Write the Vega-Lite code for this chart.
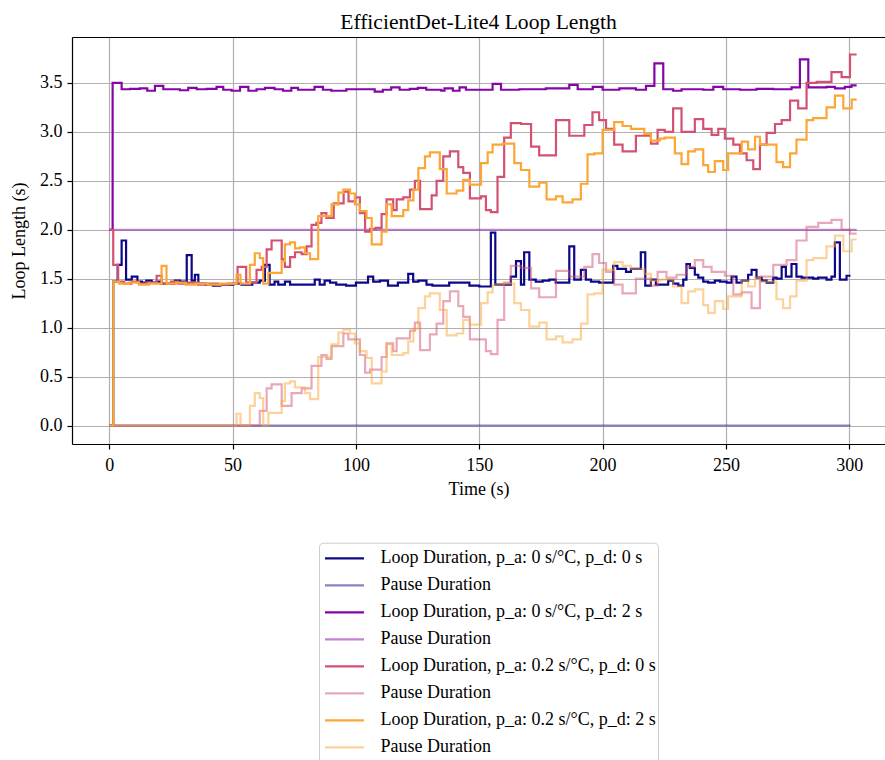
{
 "$schema": "https://vega.github.io/schema/vega-lite/v6.json",
 "width": 813, "height": 407,
 "autosize": {"type": "none"},
 "padding": {"left": 72, "top": 37, "right": 0, "bottom": 316},
 "background": "white",
 "title": {"text": "EfficientDet-Lite4 Loop Length", "fontSize": 21.6, "font": "Liberation Serif", "fontWeight": "normal", "color": "black", "anchor": "middle", "baseline": "alphabetic", "offset": 9, "dy": 22.5},
 "datasets": {
  "raw": [
   {"s":"a","t":0,"v":0},{"s":"a","t":1.6,"v":1.47},{"s":"a","t":3.4,"v":1.64},{"s":"a","t":5.0,"v":1.89},{"s":"a","t":6.8,"v":1.49},{"s":"a","t":9.1,"v":1.52},{"s":"a","t":11.4,"v":1.47},{"s":"a","t":13.2,"v":1.46},{"s":"a","t":15.0,"v":1.48},{"s":"a","t":17.2,"v":1.46},{"s":"a","t":19.2,"v":1.47},{"s":"a","t":21.2,"v":1.45},{"s":"a","t":26.6,"v":1.48},{"s":"a","t":28.6,"v":1.47},{"s":"a","t":31.4,"v":1.74},{"s":"a","t":33.4,"v":1.48},{"s":"a","t":34.7,"v":1.54},{"s":"a","t":36.1,"v":1.45},{"s":"a","t":39,"v":1.44},{"s":"a","t":42,"v":1.43},{"s":"a","t":45,"v":1.44},{"s":"a","t":50.3,"v":1.45},{"s":"a","t":53.6,"v":1.44},{"s":"a","t":58,"v":1.46},{"s":"a","t":61,"v":1.48},{"s":"a","t":63.1,"v":1.64},{"s":"a","t":65,"v":1.44},{"s":"a","t":67,"v":1.47},{"s":"a","t":68.5,"v":1.44},{"s":"a","t":71.2,"v":1.47},{"s":"a","t":73.3,"v":1.44},{"s":"a","t":83.3,"v":1.49},{"s":"a","t":85.3,"v":1.44},{"s":"a","t":87.3,"v":1.48},{"s":"a","t":89.5,"v":1.46},{"s":"a","t":92,"v":1.44},{"s":"a","t":96,"v":1.43},{"s":"a","t":100,"v":1.46},{"s":"a","t":104.9,"v":1.52},{"s":"a","t":107,"v":1.47},{"s":"a","t":109.7,"v":1.48},{"s":"a","t":113,"v":1.43},{"s":"a","t":117,"v":1.46},{"s":"a","t":121.2,"v":1.55},{"s":"a","t":123.2,"v":1.47},{"s":"a","t":125.3,"v":1.48},{"s":"a","t":128.6,"v":1.44},{"s":"a","t":131,"v":1.43},{"s":"a","t":137.8,"v":1.46},{"s":"a","t":141.9,"v":1.46},{"s":"a","t":146,"v":1.43},{"s":"a","t":150,"v":1.42},{"s":"a","t":154.7,"v":1.97},{"s":"a","t":156.5,"v":1.44},{"s":"a","t":162.8,"v":1.52},{"s":"a","t":164.9,"v":1.68},{"s":"a","t":166.9,"v":1.44},{"s":"a","t":168.2,"v":1.77},{"s":"a","t":170.3,"v":1.49},{"s":"a","t":172.9,"v":1.47},{"s":"a","t":175.7,"v":1.48},{"s":"a","t":178.4,"v":1.49},{"s":"a","t":181,"v":1.46},{"s":"a","t":186.5,"v":1.83},{"s":"a","t":188.5,"v":1.49},{"s":"a","t":191.2,"v":1.59},{"s":"a","t":193.2,"v":1.49},{"s":"a","t":195.3,"v":1.47},{"s":"a","t":198.6,"v":1.46},{"s":"a","t":204.3,"v":1.63},{"s":"a","t":206,"v":1.60},{"s":"a","t":209.5,"v":1.57},{"s":"a","t":211.5,"v":1.60},{"s":"a","t":215.5,"v":1.77},{"s":"a","t":217.3,"v":1.43},{"s":"a","t":219.6,"v":1.49},{"s":"a","t":221.6,"v":1.44},{"s":"a","t":223.6,"v":1.44},{"s":"a","t":226.6,"v":1.48},{"s":"a","t":228.6,"v":1.45},{"s":"a","t":230.7,"v":1.43},{"s":"a","t":232.7,"v":1.49},{"s":"a","t":234,"v":1.65},{"s":"a","t":235.4,"v":1.61},{"s":"a","t":237.4,"v":1.54},{"s":"a","t":238.8,"v":1.51},{"s":"a","t":240.8,"v":1.47},{"s":"a","t":242.8,"v":1.46},{"s":"a","t":245.5,"v":1.48},{"s":"a","t":247.6,"v":1.47},{"s":"a","t":250.3,"v":1.46},{"s":"a","t":252.3,"v":1.52},{"s":"a","t":254.3,"v":1.46},{"s":"a","t":256.4,"v":1.48},{"s":"a","t":259,"v":1.54},{"s":"a","t":260.4,"v":1.59},{"s":"a","t":262.4,"v":1.51},{"s":"a","t":264.5,"v":1.48},{"s":"a","t":266.5,"v":1.46},{"s":"a","t":269.2,"v":1.51},{"s":"a","t":270.5,"v":1.50},{"s":"a","t":272.6,"v":1.62},{"s":"a","t":274.3,"v":1.52},{"s":"a","t":276.6,"v":1.65},{"s":"a","t":278.6,"v":1.52},{"s":"a","t":280.7,"v":1.51},{"s":"a","t":285.4,"v":1.50},{"s":"a","t":287.4,"v":1.51},{"s":"a","t":290.8,"v":1.49},{"s":"a","t":292.8,"v":1.52},{"s":"a","t":294.2,"v":1.87},{"s":"a","t":296.2,"v":1.49},{"s":"a","t":298.9,"v":1.53},{"s":"a","t":300.5,"v":1.53},
   {"s":"b","t":0,"v":0},{"s":"b","t":300.5,"v":0},
   {"s":"c","t":0,"v":2.0},{"s":"c","t":1.35,"v":3.50},{"s":"c","t":5.0,"v":3.435},{"s":"c","t":8.4,"v":3.44},{"s":"c","t":12.4,"v":3.445},{"s":"c","t":15.4,"v":3.42},{"s":"c","t":18.5,"v":3.47},{"s":"c","t":21.9,"v":3.435},{"s":"c","t":28.6,"v":3.425},{"s":"c","t":32.0,"v":3.45},{"s":"c","t":35.4,"v":3.435},{"s":"c","t":39.5,"v":3.44},{"s":"c","t":43.5,"v":3.46},{"s":"c","t":46.2,"v":3.43},{"s":"c","t":49.6,"v":3.42},{"s":"c","t":53.0,"v":3.46},{"s":"c","t":56.4,"v":3.42},{"s":"c","t":59.7,"v":3.435},{"s":"c","t":63.1,"v":3.45},{"s":"c","t":67,"v":3.435},{"s":"c","t":70.4,"v":3.42},{"s":"c","t":73.8,"v":3.45},{"s":"c","t":76.5,"v":3.43},{"s":"c","t":83.2,"v":3.46},{"s":"c","t":86.6,"v":3.43},{"s":"c","t":90,"v":3.42},{"s":"c","t":96.1,"v":3.435},{"s":"c","t":107.6,"v":3.41},{"s":"c","t":110.9,"v":3.43},{"s":"c","t":114.3,"v":3.455},{"s":"c","t":117.7,"v":3.43},{"s":"c","t":121.8,"v":3.44},{"s":"c","t":125.1,"v":3.45},{"s":"c","t":128.5,"v":3.43},{"s":"c","t":134.6,"v":3.42},{"s":"c","t":135.9,"v":3.445},{"s":"c","t":139.3,"v":3.42},{"s":"c","t":142,"v":3.455},{"s":"c","t":144.6,"v":3.43},{"s":"c","t":155.4,"v":3.49},{"s":"c","t":158.8,"v":3.43},{"s":"c","t":166.2,"v":3.435},{"s":"c","t":177,"v":3.445},{"s":"c","t":186.5,"v":3.48},{"s":"c","t":189.9,"v":3.435},{"s":"c","t":196,"v":3.46},{"s":"c","t":200,"v":3.43},{"s":"c","t":206.8,"v":3.445},{"s":"c","t":213.5,"v":3.43},{"s":"c","t":217.6,"v":3.47},{"s":"c","t":221,"v":3.70},{"s":"c","t":224.6,"v":3.435},{"s":"c","t":228.6,"v":3.42},{"s":"c","t":232,"v":3.435},{"s":"c","t":240.8,"v":3.43},{"s":"c","t":244.9,"v":3.46},{"s":"c","t":248.9,"v":3.435},{"s":"c","t":255.7,"v":3.43},{"s":"c","t":262.4,"v":3.44},{"s":"c","t":269.2,"v":3.435},{"s":"c","t":276.6,"v":3.455},{"s":"c","t":280,"v":3.74},{"s":"c","t":283.4,"v":3.455},{"s":"c","t":290.8,"v":3.46},{"s":"c","t":294.2,"v":3.445},{"s":"c","t":298.2,"v":3.46},{"s":"c","t":300.9,"v":3.475},{"s":"c","t":303,"v":3.475},
   {"s":"d","t":0,"v":2.0},{"s":"d","t":303,"v":2.0},
   {"s":"e","t":0,"v":2.0},{"s":"e","t":1.6,"v":1.64},{"s":"e","t":3.6,"v":1.47},{"s":"e","t":6,"v":1.45},{"s":"e","t":9,"v":1.47},{"s":"e","t":12,"v":1.45},{"s":"e","t":15,"v":1.46},{"s":"e","t":19.2,"v":1.53},{"s":"e","t":21.2,"v":1.45},{"s":"e","t":25,"v":1.47},{"s":"e","t":28,"v":1.45},{"s":"e","t":32,"v":1.46},{"s":"e","t":36,"v":1.44},{"s":"e","t":40,"v":1.45},{"s":"e","t":44,"v":1.44},{"s":"e","t":48,"v":1.45},{"s":"e","t":52,"v":1.62},{"s":"e","t":55.5,"v":1.46},{"s":"e","t":59.7,"v":1.59},{"s":"e","t":61.8,"v":1.62},{"s":"e","t":63.8,"v":1.80},{"s":"e","t":65.8,"v":1.89},{"s":"e","t":69.9,"v":1.70},{"s":"e","t":71.2,"v":1.62},{"s":"e","t":73.3,"v":1.72},{"s":"e","t":75.3,"v":1.77},{"s":"e","t":78,"v":1.75},{"s":"e","t":80,"v":1.83},{"s":"e","t":82,"v":2.05},{"s":"e","t":84,"v":2.07},{"s":"e","t":86,"v":2.17},{"s":"e","t":88,"v":2.12},{"s":"e","t":91,"v":2.27},{"s":"e","t":95,"v":2.39},{"s":"e","t":97,"v":2.29},{"s":"e","t":99.6,"v":2.33},{"s":"e","t":101.6,"v":2.17},{"s":"e","t":103.7,"v":1.98},{"s":"e","t":105.7,"v":2.01},{"s":"e","t":108,"v":2.02},{"s":"e","t":110.4,"v":2.16},{"s":"e","t":112.4,"v":2.31},{"s":"e","t":115.1,"v":2.20},{"s":"e","t":116.5,"v":2.31},{"s":"e","t":119.2,"v":2.33},{"s":"e","t":121.9,"v":2.41},{"s":"e","t":123.9,"v":2.50},{"s":"e","t":126,"v":2.21},{"s":"e","t":130.7,"v":2.35},{"s":"e","t":132.7,"v":2.50},{"s":"e","t":135.4,"v":2.75},{"s":"e","t":138.1,"v":2.80},{"s":"e","t":141.5,"v":2.64},{"s":"e","t":143.5,"v":2.58},{"s":"e","t":146.2,"v":2.32},{"s":"e","t":150.7,"v":2.34},{"s":"e","t":152.7,"v":2.20},{"s":"e","t":154.7,"v":2.18},{"s":"e","t":157.4,"v":2.54},{"s":"e","t":160.1,"v":2.94},{"s":"e","t":162.8,"v":3.09},{"s":"e","t":166.9,"v":3.08},{"s":"e","t":171,"v":2.85},{"s":"e","t":174.3,"v":2.76},{"s":"e","t":181.1,"v":3.12},{"s":"e","t":186.5,"v":2.96},{"s":"e","t":192.6,"v":3.07},{"s":"e","t":195.9,"v":3.20},{"s":"e","t":198.6,"v":3.12},{"s":"e","t":201.4,"v":3.03},{"s":"e","t":204.7,"v":2.87},{"s":"e","t":208.1,"v":2.80},{"s":"e","t":213.5,"v":2.96},{"s":"e","t":219.6,"v":2.88},{"s":"e","t":222.3,"v":3.02},{"s":"e","t":225.2,"v":3.00},{"s":"e","t":228.6,"v":3.24},{"s":"e","t":232,"v":3.00},{"s":"e","t":237.4,"v":3.13},{"s":"e","t":240.8,"v":3.03},{"s":"e","t":244.2,"v":2.97},{"s":"e","t":246.9,"v":3.03},{"s":"e","t":249.6,"v":2.93},{"s":"e","t":253,"v":2.87},{"s":"e","t":255.7,"v":2.78},{"s":"e","t":258.4,"v":2.71},{"s":"e","t":261.1,"v":2.62},{"s":"e","t":263.8,"v":2.87},{"s":"e","t":266.5,"v":2.99},{"s":"e","t":269.9,"v":3.08},{"s":"e","t":272.6,"v":3.12},{"s":"e","t":276,"v":3.32},{"s":"e","t":279.3,"v":3.24},{"s":"e","t":282.7,"v":3.50},{"s":"e","t":286.8,"v":3.51},{"s":"e","t":292.8,"v":3.61},{"s":"e","t":296.9,"v":3.56},{"s":"e","t":300.3,"v":3.79},{"s":"e","t":303,"v":3.79},
   {"s":"f","t":0,"v":0},{"s":"f","t":61,"v":0.15},{"s":"f","t":63.8,"v":0.38},{"s":"f","t":65.8,"v":0.42},{"s":"f","t":69.9,"v":0.20},{"s":"f","t":73.9,"v":0.33},{"s":"f","t":78,"v":0.38},{"s":"f","t":82,"v":0.61},{"s":"f","t":86,"v":0.72},{"s":"f","t":88.1,"v":0.68},{"s":"f","t":90.1,"v":0.81},{"s":"f","t":94.9,"v":0.94},{"s":"f","t":96.9,"v":0.88},{"s":"f","t":101.6,"v":0.72},{"s":"f","t":103.7,"v":0.54},{"s":"f","t":105.7,"v":0.57},{"s":"f","t":110.4,"v":0.70},{"s":"f","t":112.4,"v":0.84},{"s":"f","t":115.1,"v":0.76},{"s":"f","t":116.5,"v":0.89},{"s":"f","t":121.9,"v":0.97},{"s":"f","t":123.9,"v":1.05},{"s":"f","t":126,"v":0.77},{"s":"f","t":130,"v":0.93},{"s":"f","t":132.7,"v":1.04},{"s":"f","t":135.4,"v":1.27},{"s":"f","t":138.1,"v":1.37},{"s":"f","t":141.5,"v":1.22},{"s":"f","t":143.5,"v":1.11},{"s":"f","t":146.2,"v":0.88},{"s":"f","t":150.7,"v":0.88},{"s":"f","t":152.7,"v":0.76},{"s":"f","t":154.7,"v":0.73},{"s":"f","t":157.4,"v":1.08},{"s":"f","t":160.1,"v":1.46},{"s":"f","t":162.8,"v":1.63},{"s":"f","t":166.9,"v":1.61},{"s":"f","t":171,"v":1.40},{"s":"f","t":174.3,"v":1.31},{"s":"f","t":181.1,"v":1.58},{"s":"f","t":186.5,"v":1.52},{"s":"f","t":192.6,"v":1.62},{"s":"f","t":195.9,"v":1.75},{"s":"f","t":198.6,"v":1.66},{"s":"f","t":201.4,"v":1.57},{"s":"f","t":204.7,"v":1.44},{"s":"f","t":208.1,"v":1.35},{"s":"f","t":213.5,"v":1.50},{"s":"f","t":219.6,"v":1.43},{"s":"f","t":222.3,"v":1.57},{"s":"f","t":225.9,"v":1.51},{"s":"f","t":230,"v":1.54},{"s":"f","t":234,"v":1.62},{"s":"f","t":237.4,"v":1.69},{"s":"f","t":240.8,"v":1.62},{"s":"f","t":244.2,"v":1.57},{"s":"f","t":249.6,"v":1.53},{"s":"f","t":253,"v":1.34},{"s":"f","t":256.4,"v":1.36},{"s":"f","t":260.4,"v":1.20},{"s":"f","t":263.8,"v":1.52},{"s":"f","t":269.2,"v":1.64},{"s":"f","t":274.6,"v":1.69},{"s":"f","t":278.6,"v":1.89},{"s":"f","t":282.7,"v":2.03},{"s":"f","t":287.4,"v":2.07},{"s":"f","t":292.8,"v":2.10},{"s":"f","t":296.9,"v":2.0},{"s":"f","t":300.3,"v":1.96},{"s":"f","t":303,"v":1.96},
   {"s":"g","t":0,"v":0},{"s":"g","t":1.6,"v":1.47},{"s":"g","t":4,"v":1.45},{"s":"g","t":8,"v":1.46},{"s":"g","t":12,"v":1.44},{"s":"g","t":16,"v":1.45},{"s":"g","t":21.2,"v":1.63},{"s":"g","t":23.2,"v":1.45},{"s":"g","t":27,"v":1.46},{"s":"g","t":31,"v":1.44},{"s":"g","t":35,"v":1.45},{"s":"g","t":40,"v":1.44},{"s":"g","t":45,"v":1.45},{"s":"g","t":51.6,"v":1.54},{"s":"g","t":53.2,"v":1.45},{"s":"g","t":57,"v":1.64},{"s":"g","t":59,"v":1.76},{"s":"g","t":61,"v":1.71},{"s":"g","t":62.4,"v":1.45},{"s":"g","t":64.5,"v":1.56},{"s":"g","t":69.9,"v":1.68},{"s":"g","t":71.2,"v":1.85},{"s":"g","t":73.3,"v":1.87},{"s":"g","t":75.3,"v":1.81},{"s":"g","t":77.3,"v":1.82},{"s":"g","t":79.3,"v":1.76},{"s":"g","t":81.4,"v":1.70},{"s":"g","t":84.7,"v":2.14},{"s":"g","t":90.1,"v":2.26},{"s":"g","t":92.9,"v":2.38},{"s":"g","t":94.9,"v":2.41},{"s":"g","t":97.6,"v":2.37},{"s":"g","t":99.6,"v":2.26},{"s":"g","t":101.6,"v":2.19},{"s":"g","t":104.3,"v":2.12},{"s":"g","t":106.4,"v":1.85},{"s":"g","t":110.4,"v":1.98},{"s":"g","t":112.4,"v":2.26},{"s":"g","t":114.5,"v":2.14},{"s":"g","t":119.2,"v":2.20},{"s":"g","t":121.2,"v":2.30},{"s":"g","t":123.3,"v":2.41},{"s":"g","t":125.3,"v":2.63},{"s":"g","t":128,"v":2.75},{"s":"g","t":130,"v":2.79},{"s":"g","t":134,"v":2.62},{"s":"g","t":136.8,"v":2.37},{"s":"g","t":140.8,"v":2.40},{"s":"g","t":143.5,"v":2.51},{"s":"g","t":146.2,"v":2.46},{"s":"g","t":150.7,"v":2.68},{"s":"g","t":153.4,"v":2.79},{"s":"g","t":155.4,"v":2.87},{"s":"g","t":159.5,"v":2.88},{"s":"g","t":164.2,"v":2.68},{"s":"g","t":166.9,"v":2.61},{"s":"g","t":170.3,"v":2.44},{"s":"g","t":174.3,"v":2.48},{"s":"g","t":177.3,"v":2.31},{"s":"g","t":181.1,"v":2.34},{"s":"g","t":183.8,"v":2.28},{"s":"g","t":187.8,"v":2.31},{"s":"g","t":191.2,"v":2.47},{"s":"g","t":193.9,"v":2.77},{"s":"g","t":196.6,"v":2.78},{"s":"g","t":200,"v":3.02},{"s":"g","t":204.7,"v":3.10},{"s":"g","t":208.1,"v":3.06},{"s":"g","t":211.5,"v":3.03},{"s":"g","t":216.9,"v":2.98},{"s":"g","t":219.6,"v":2.91},{"s":"g","t":223.2,"v":2.93},{"s":"g","t":225.2,"v":2.94},{"s":"g","t":229.3,"v":2.78},{"s":"g","t":232,"v":2.67},{"s":"g","t":234.7,"v":2.80},{"s":"g","t":237.4,"v":2.82},{"s":"g","t":240.8,"v":2.66},{"s":"g","t":242.8,"v":2.59},{"s":"g","t":245.5,"v":2.70},{"s":"g","t":248.9,"v":2.61},{"s":"g","t":250.9,"v":2.78},{"s":"g","t":256.4,"v":2.90},{"s":"g","t":259,"v":2.82},{"s":"g","t":261.8,"v":2.95},{"s":"g","t":263.8,"v":2.87},{"s":"g","t":270.5,"v":2.69},{"s":"g","t":273.2,"v":2.64},{"s":"g","t":276,"v":2.78},{"s":"g","t":278.6,"v":2.92},{"s":"g","t":282.7,"v":3.12},{"s":"g","t":285.4,"v":3.14},{"s":"g","t":290.8,"v":3.25},{"s":"g","t":294.2,"v":3.37},{"s":"g","t":297.6,"v":3.24},{"s":"g","t":301,"v":3.33},{"s":"g","t":303,"v":3.33},
   {"s":"h","t":0,"v":0},{"s":"h","t":51.6,"v":0.12},{"s":"h","t":53.2,"v":0},{"s":"h","t":57,"v":0.20},{"s":"h","t":59,"v":0.33},{"s":"h","t":61,"v":0.28},{"s":"h","t":62.4,"v":0},{"s":"h","t":64.5,"v":0.13},{"s":"h","t":69.9,"v":0.25},{"s":"h","t":71.2,"v":0.43},{"s":"h","t":73.3,"v":0.45},{"s":"h","t":75.3,"v":0.39},{"s":"h","t":77.3,"v":0.39},{"s":"h","t":79.3,"v":0.33},{"s":"h","t":81.4,"v":0.27},{"s":"h","t":84.7,"v":0.70},{"s":"h","t":90.1,"v":0.83},{"s":"h","t":92.9,"v":0.95},{"s":"h","t":94.9,"v":0.98},{"s":"h","t":97.6,"v":0.94},{"s":"h","t":99.6,"v":0.84},{"s":"h","t":101.6,"v":0.76},{"s":"h","t":104.3,"v":0.69},{"s":"h","t":106.4,"v":0.43},{"s":"h","t":110.4,"v":0.55},{"s":"h","t":112.4,"v":0.83},{"s":"h","t":114.5,"v":0.72},{"s":"h","t":119.2,"v":0.74},{"s":"h","t":121.2,"v":0.86},{"s":"h","t":123.3,"v":0.99},{"s":"h","t":125.3,"v":1.20},{"s":"h","t":128,"v":1.32},{"s":"h","t":130,"v":1.35},{"s":"h","t":134,"v":1.18},{"s":"h","t":136.8,"v":0.92},{"s":"h","t":140.8,"v":0.94},{"s":"h","t":143.5,"v":1.08},{"s":"h","t":146.2,"v":1.03},{"s":"h","t":150.7,"v":1.25},{"s":"h","t":153.4,"v":1.36},{"s":"h","t":155.4,"v":1.44},{"s":"h","t":159.5,"v":1.45},{"s":"h","t":164.2,"v":1.25},{"s":"h","t":166.9,"v":1.18},{"s":"h","t":170.3,"v":1.01},{"s":"h","t":174.3,"v":1.05},{"s":"h","t":177.3,"v":0.88},{"s":"h","t":181.1,"v":0.91},{"s":"h","t":183.8,"v":0.85},{"s":"h","t":187.8,"v":0.88},{"s":"h","t":191.2,"v":1.04},{"s":"h","t":193.9,"v":1.34},{"s":"h","t":196.6,"v":1.35},{"s":"h","t":200,"v":1.59},{"s":"h","t":204.7,"v":1.67},{"s":"h","t":208.1,"v":1.63},{"s":"h","t":211.5,"v":1.60},{"s":"h","t":216.9,"v":1.55},{"s":"h","t":219.6,"v":1.48},{"s":"h","t":223.2,"v":1.49},{"s":"h","t":228.6,"v":1.42},{"s":"h","t":232,"v":1.25},{"s":"h","t":234.7,"v":1.37},{"s":"h","t":237.4,"v":1.39},{"s":"h","t":240.8,"v":1.23},{"s":"h","t":242.8,"v":1.15},{"s":"h","t":245.5,"v":1.27},{"s":"h","t":248.9,"v":1.19},{"s":"h","t":250.9,"v":1.32},{"s":"h","t":256.4,"v":1.48},{"s":"h","t":259,"v":1.42},{"s":"h","t":261.8,"v":1.51},{"s":"h","t":263.8,"v":1.47},{"s":"h","t":270.5,"v":1.29},{"s":"h","t":273.2,"v":1.20},{"s":"h","t":276,"v":1.32},{"s":"h","t":278.6,"v":1.48},{"s":"h","t":282.7,"v":1.69},{"s":"h","t":285.4,"v":1.71},{"s":"h","t":290.8,"v":1.83},{"s":"h","t":294.2,"v":1.94},{"s":"h","t":297.6,"v":1.78},{"s":"h","t":301,"v":1.90},{"s":"h","t":303,"v":1.90}
  ]
 },
 "data": {"name": "raw"},
 "layer": [
  {
   "mark": {"type": "line", "interpolate": "step-after", "strokeWidth": 2.2},
   "encoding": {
    "x": {"field": "t", "type": "quantitative",
     "scale": {"domain": [-15.12, 314.5], "nice": false, "zero": false},
     "axis": {"orient": "bottom", "values": [0, 50, 100, 150, 200, 250, 300], "title": "Time (s)", "grid": true, "labelPadding": 7, "titlePadding": 6}},
    "y": {"field": "v", "type": "quantitative",
     "scale": {"domain": [-0.189, 3.969], "nice": false, "zero": false},
     "axis": {"values": [0, 0.5, 1, 1.5, 2, 2.5, 3, 3.5], "format": ".1f", "title": "Loop Length (s)", "grid": true, "labelPadding": 5, "titlePadding": 11}},
    "color": {"field": "s", "type": "nominal",
     "scale": {"domain": ["a", "b", "c", "d", "e", "f", "g", "h"],
      "range": ["#0d0887", "rgba(13,8,135,0.5)", "#8506a6", "rgba(133,6,166,0.5)", "#d35171", "rgba(211,81,113,0.5)", "#fca636", "rgba(252,166,54,0.5)"]},
     "legend": {"orient": "none", "legendX": 247, "legendY": 505.7, "title": null,
      "symbolType": "stroke", "symbolSize": 1521, "symbolStrokeWidth": 2.2, "symbolOffset": 2.2,
      "clipHeight": 26.67, "rowPadding": 0, "padding": 2.3, "labelOffset": 15,
      "labelExpr": "datum.label == 'a' ? 'Loop Duration, p_a: 0 s/°C, p_d: 0 s' : datum.label == 'c' ? 'Loop Duration, p_a: 0 s/°C, p_d: 2 s' : datum.label == 'e' ? 'Loop Duration, p_a: 0.2 s/°C, p_d: 0 s' : datum.label == 'g' ? 'Loop Duration, p_a: 0.2 s/°C, p_d: 2 s' : 'Pause Duration'"}}
   }
  },
  {
   "transform": [{"filter": "datum.s == 'b'"}],
   "mark": {"type": "line", "opacity": 0},
   "encoding": {
    "x": {"field": "t", "type": "quantitative",
     "axis": {"orient": "top", "labels": false, "ticks": false, "grid": false, "title": null, "domain": true, "minExtent": 0, "maxExtent": 0, "offset": 0}},
    "y": {"field": "v", "type": "quantitative"}
   }
  }
 ],
 "resolve": {"axis": {"x": "independent"}},
 "config": {
  "view": {"stroke": null},
  "font": "Liberation Serif",
  "axis": {"domainColor": "black", "domainWidth": 1.2, "tickColor": "black", "tickWidth": 1.2, "tickSize": 5,
   "gridColor": "#b0b0b0", "gridWidth": 1.2, "gridOpacity": 1,
   "labelFont": "Liberation Serif", "labelFontSize": 18, "labelColor": "black", "labelFlush": false, "labelOverlap": false,
   "titleFont": "Liberation Serif", "titleFontSize": 18, "titleFontWeight": "normal", "titleColor": "black"},
  "legend": {"labelFont": "Liberation Serif", "labelFontSize": 18, "labelColor": "black", "labelLimit": 0,
   "strokeColor": "#cccccc", "cornerRadius": 4, "fillColor": "rgba(255,255,255,0.8)"}
 }
}
